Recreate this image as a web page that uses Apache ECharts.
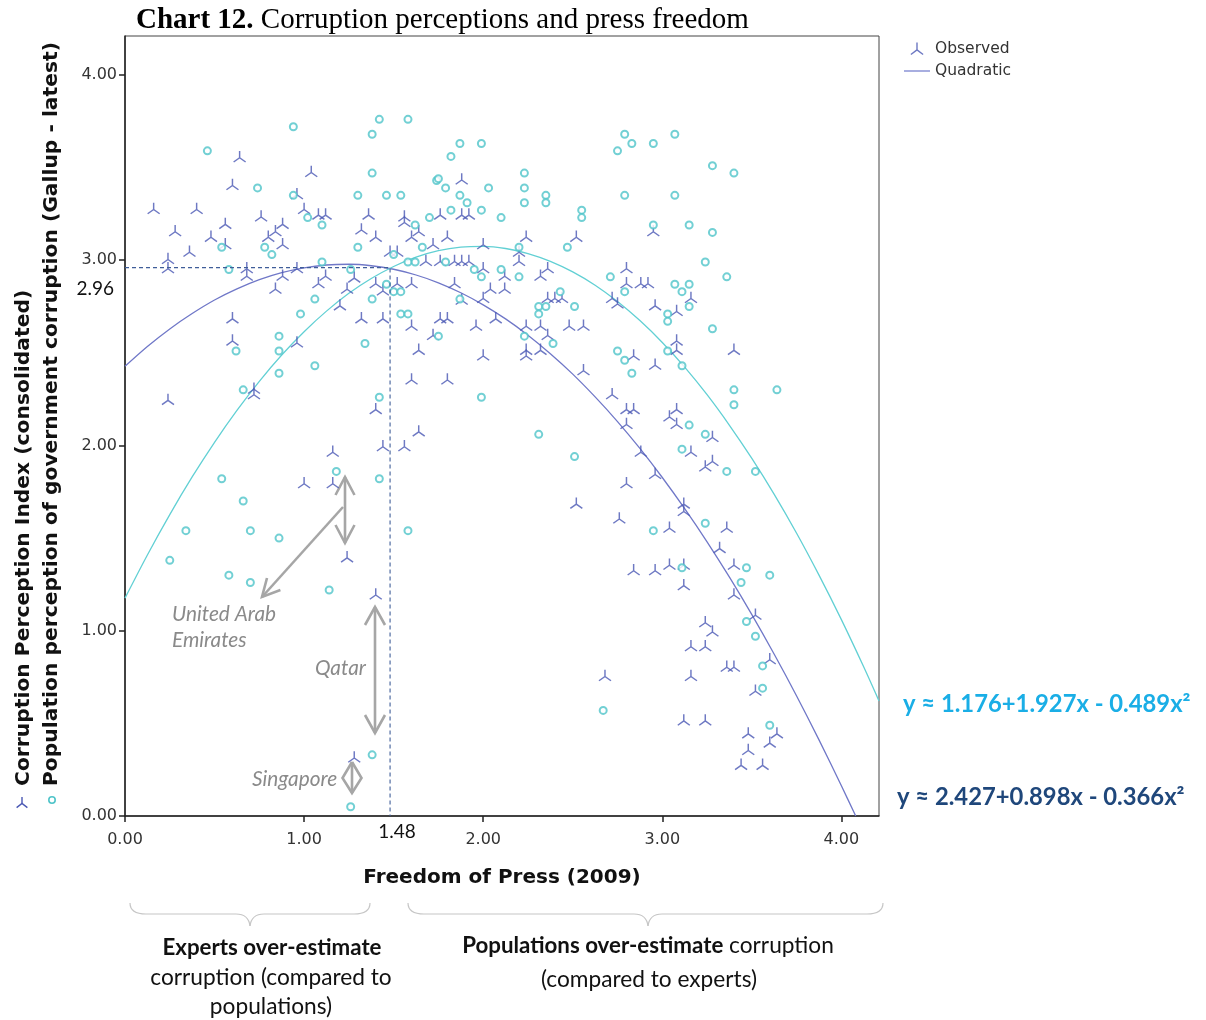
<!DOCTYPE html>
<html>
<head>
<meta charset="utf-8">
<script src="https://cdn.jsdelivr.net/npm/echarts@6/dist/echarts.min.js"></script>
<style>html,body{margin:0;padding:0;background:#fff;}#c{width:1206px;height:1020px;}</style>
</head>
<body>
<div id="c"></div>
<script>
// ---- data ----
const tickValues = [0, 1, 2, 3, 4];

const observedPoints = [
[0.64,3.56],[1.04,3.48],[0.60,3.41],[1.88,3.44],[0.96,3.36],[0.16,3.28],[0.40,3.28],[1.00,3.28],[1.08,3.25],[1.12,3.25],
[1.36,3.25],[1.56,3.24],[1.56,3.21],[1.76,3.25],[1.88,3.25],[1.92,3.25],[0.28,3.16],[0.56,3.20],[0.76,3.24],[0.88,3.20],
[0.84,3.16],[0.80,3.13],[0.48,3.13],[0.56,3.09],[0.88,3.09],[0.36,3.05],[1.32,3.17],[1.40,3.13],[1.64,3.16],[1.60,3.13],
[1.80,3.13],[1.72,3.09],[2.00,3.09],[0.24,3.01],[0.24,2.96],[1.48,3.05],[1.52,3.05],[0.68,2.96],[0.68,2.92],[0.96,2.96],
[0.88,2.92],[1.68,3.00],[1.76,3.00],[1.84,3.00],[1.88,3.00],[1.92,3.00],[2.00,2.96],[1.12,2.92],[1.08,2.88],[1.28,2.91],
[0.84,2.85],[1.24,2.85],[1.40,2.88],[1.44,2.84],[1.52,2.88],[1.60,2.88],[1.84,2.88],[2.04,2.85],[2.00,2.80],[1.88,2.79],
[1.20,2.76],
[2.24,3.13],[2.52,3.13],[2.95,3.16],[2.20,3.05],[2.20,3.00],[2.12,2.92],[2.36,2.96],[2.32,2.92],[2.12,2.85],[2.36,2.80],
[2.40,2.80],[2.44,2.80],[2.80,2.96],[2.80,2.88],[2.88,2.88],[2.92,2.88],[2.72,2.80],[2.75,2.77],[3.16,2.80],[2.96,2.76],
[3.08,2.73],
[0.60,2.69],[1.32,2.69],[1.44,2.69],[1.60,2.65],[1.76,2.69],[1.80,2.69],[1.96,2.65],[2.07,2.69],[0.60,2.57],[0.96,2.56],
[1.72,2.60],[1.64,2.52],[2.00,2.49],[0.72,2.31],[0.72,2.28],[0.24,2.25],[1.60,2.36],[1.80,2.36],[1.40,2.20],[1.64,2.08],
[1.44,2.00],[1.56,2.00],[1.16,1.97],[1.00,1.80],[1.16,1.80],[1.24,1.40],
[2.24,2.65],[2.32,2.65],[2.48,2.65],[2.56,2.65],[2.36,2.60],[2.24,2.52],[2.24,2.49],[2.32,2.52],[2.84,2.49],[2.96,2.44],
[3.08,2.57],[3.08,2.52],[3.40,2.52],[2.56,2.41],[2.72,2.28],[2.80,2.20],[2.84,2.20],[2.80,2.12],[3.08,2.20],[3.04,2.16],
[3.08,2.12],[3.28,2.05],[3.16,1.97],[3.28,1.92],[3.24,1.89],[2.88,1.97],[2.96,1.85],[2.80,1.80],[2.52,1.69],[3.12,1.69],
[3.12,1.65],[2.76,1.61],[3.04,1.56],[3.36,1.56],[3.32,1.45],[2.84,1.33],[2.96,1.33],[3.04,1.36],[3.12,1.36],[3.40,1.36],
[3.12,1.25],[3.40,1.20],[3.24,1.05],[3.28,1.00],[3.52,1.09],[3.16,0.92],[3.24,0.92],[3.36,0.81],[3.40,0.81],[3.60,0.85],
[2.68,0.76],[3.16,0.76],[3.52,0.68],[3.12,0.52],[3.24,0.52],[3.48,0.45],[3.64,0.45],[3.48,0.36],[3.60,0.40],[3.44,0.28],
[3.56,0.28],[1.40,1.20],[1.28,0.32]
];

const gallupPoints = [
[0.46,3.59],[0.94,3.72],[1.42,3.76],[1.58,3.76],[1.38,3.68],[1.87,3.63],[1.99,3.63],[1.82,3.56],[1.38,3.47],[1.74,3.43],
[1.75,3.44],[1.79,3.39],[2.03,3.39],[0.74,3.39],[0.94,3.35],[1.30,3.35],[1.46,3.35],[1.54,3.35],[1.87,3.35],[1.91,3.31],
[1.82,3.27],[1.99,3.27],[2.10,3.23],[1.02,3.23],[1.10,3.19],[1.70,3.23],[1.62,3.19],[0.54,3.07],[0.78,3.07],[0.82,3.03],
[1.30,3.07],[1.66,3.07],[1.50,3.03],[1.10,2.99],[0.58,2.95],[1.58,2.99],[1.62,2.99],[1.79,2.99],[1.26,2.95],[1.95,2.95],
[1.99,2.91],[2.10,2.95],[1.46,2.87],[1.50,2.83],[1.54,2.83],[1.06,2.79],[1.38,2.79],[1.87,2.79],
[2.79,3.68],[2.83,3.63],[2.75,3.59],[2.95,3.63],[3.07,3.68],[3.28,3.51],[3.40,3.47],[2.23,3.47],[2.23,3.39],[2.23,3.31],
[2.35,3.35],[2.35,3.31],[2.55,3.27],[2.55,3.23],[2.79,3.35],[3.07,3.35],[2.95,3.19],[3.15,3.19],[3.28,3.15],[2.47,3.07],
[2.20,3.07],[3.24,2.99],[3.36,2.91],[2.20,2.91],[2.43,2.83],[2.71,2.91],[2.79,2.83],[3.07,2.87],[3.15,2.87],[3.11,2.83],
[3.15,2.75],[2.31,2.75],[2.35,2.75],[2.51,2.75],
[0.98,2.71],[1.54,2.71],[1.58,2.71],[0.86,2.59],[0.86,2.51],[0.62,2.51],[1.34,2.55],[1.75,2.59],[0.86,2.39],[1.06,2.43],
[0.66,2.30],[1.42,2.26],[1.99,2.26],[1.18,1.86],[1.42,1.82],[0.54,1.82],[0.66,1.70],[0.34,1.54],[0.70,1.54],[1.58,1.54],
[0.86,1.50],[0.25,1.38],[0.58,1.30],
[2.31,2.71],[3.03,2.71],[3.03,2.67],[3.28,2.63],[2.23,2.59],[2.39,2.55],[2.75,2.51],[2.79,2.46],[2.83,2.39],[3.03,2.51],
[3.11,2.43],[3.40,2.30],[3.40,2.22],[3.64,2.30],[3.15,2.11],[3.24,2.06],[3.11,1.98],[2.31,2.06],[2.51,1.94],[3.36,1.86],
[3.52,1.86],[2.95,1.54],[3.24,1.58],[3.11,1.34],[3.47,1.34],[3.60,1.30],
[3.44,1.26],[3.47,1.05],[3.52,0.97],[3.56,0.81],[3.56,0.69],[3.60,0.49],[2.67,0.57],
[0.70,1.26],[1.14,1.22],[1.38,0.33],[1.26,0.05]
];

// quadratic fit curves as drawn (y ≈ 2.427+0.898x-0.366x² and y ≈ 1.176+1.927x-0.489x²)
const observedFit = [
[0,2.427],[0.125,2.534],[0.25,2.629],[0.375,2.712],[0.5,2.785],[0.625,2.845],[0.75,2.895],[0.875,2.933],
[1.0,2.959],[1.125,2.974],[1.25,2.978],[1.375,2.970],[1.5,2.951],[1.625,2.920],[1.75,2.878],[1.875,2.824],
[2.0,2.759],[2.125,2.683],[2.25,2.595],[2.375,2.495],[2.5,2.385],[2.625,2.262],[2.75,2.129],[2.875,1.984],
[3.0,1.827],[3.125,1.659],[3.25,1.480],[3.375,1.289],[3.5,1.087],[3.625,0.873],[3.75,0.648],[3.875,0.411],
[4.0,0.163],[4.08,0.0]
];
const gallupFit = [
[0,1.176],[0.125,1.409],[0.25,1.627],[0.375,1.830],[0.5,2.017],[0.625,2.189],[0.75,2.346],[0.875,2.488],
[1.0,2.614],[1.125,2.725],[1.25,2.821],[1.375,2.901],[1.5,2.966],[1.625,3.016],[1.75,3.051],[1.875,3.070],
[2.0,3.074],[2.125,3.063],[2.25,3.036],[2.375,2.994],[2.5,2.937],[2.625,2.865],[2.75,2.777],[2.875,2.674],
[3.0,2.556],[3.125,2.423],[3.25,2.274],[3.375,2.109],[3.5,1.930],[3.625,1.736],[3.75,1.526],[3.875,1.300],
[4.0,1.060],[4.125,0.804],[4.21,0.621]
];

const refLine = [[0,2.96],[1.48,2.96],[1.48,0]];

// ---- styling ----
const TRI = 'path://M6,0 L6,6.5 M6,6.5 L0.6,10.6 M6,6.5 L11.4,10.6';
const BLUE = '#4a58b4';
const CYAN = '#4fc4c9';
const SANS = 'DejaVu Sans';

const chart = echarts.init(document.getElementById('c'));

const axisCommon = {
  type: 'value', min: 0, max: 4.21,
  axisLine: { show: true, onZero: false, lineStyle: { color: '#222', width: 1.5 } },
  axisTick: { show: true, customValues: tickValues, length: 6, lineStyle: { color: '#222', width: 1.5 } },
  axisLabel: { customValues: tickValues, formatter: v => v.toFixed(2), fontFamily: SANS, fontSize: 16, color: '#333' },
  splitLine: { show: false }
};

const gray = '#a6a6a6';
function poly(points, color, w) {
  return { type: 'polyline', silent: true, shape: { points: points },
    style: { stroke: color || gray, lineWidth: w || 2.6, fill: null } };
}
function bez(p0, c1, c2, p1) {
  return { type: 'bezierCurve', silent: true,
    shape: { x1: p0[0], y1: p0[1], cpx1: c1[0], cpy1: c1[1], cpx2: c2[0], cpy2: c2[1], x2: p1[0], y2: p1[1] },
    style: { stroke: '#c6c6c6', lineWidth: 1.2, fill: null } };
}
function brace(x0, xm, x1, yTop, yMid, yTip) {
  return [
    bez([x0, yTop], [x0, yMid - 3], [x0 + 6, yMid], [x0 + 16, yMid]),
    poly([[x0 + 16, yMid], [xm - 14, yMid]], '#c6c6c6', 1.2),
    bez([xm - 14, yMid], [xm - 6, yMid], [xm - 1, yMid + 4], [xm, yTip]),
    bez([xm, yTip], [xm + 1, yMid + 4], [xm + 6, yMid], [xm + 14, yMid]),
    poly([[xm + 14, yMid], [x1 - 16, yMid]], '#c6c6c6', 1.2),
    bez([x1 - 16, yMid], [x1 - 6, yMid], [x1, yMid - 3], [x1, yTop])
  ];
}

const graphics = [
  // y axis titles
  { type: 'text', x: 24, y: 786, rotation: Math.PI / 2, silent: true,
    style: { text: 'Corruption Perception Index (consolidated)', font: 'bold 20.3px "DejaVu Sans"', fill: '#111', align: 'left', verticalAlign: 'middle' } },
  { type: 'text', x: 52, y: 786, rotation: Math.PI / 2, silent: true,
    style: { text: 'Population perception of government corruption (Gallup - latest)', font: 'bold 20.3px "DejaVu Sans"', fill: '#111', align: 'left', verticalAlign: 'middle' } },
  poly([[22, 797], [22, 803.5]], BLUE, 1.4),
  poly([[16.6, 807.6], [22, 803.5], [27.4, 807.6]], BLUE, 1.4),
  { type: 'circle', silent: true, shape: { cx: 52, cy: 800, r: 3.2 }, style: { stroke: CYAN, fill: '#fff', lineWidth: 1.6 } },
  // reference value labels
  { type: 'text', x: 114, y: 289, silent: true, style: { text: '2.96', font: '19px Lato', fill: '#111', align: 'right', verticalAlign: 'middle' } },
  { type: 'text', x: 397, y: 832, silent: true, style: { text: '1.48', font: '19px Lato', fill: '#111', align: 'center', verticalAlign: 'middle' } },
  // equations
  { type: 'text', x: 903, y: 704, silent: true, style: { text: 'y ≈ 1.176+1.927x - 0.489x²', font: 'bold 23.8px Lato', fill: '#1aaee6', align: 'left', verticalAlign: 'middle' } },
  { type: 'text', x: 897, y: 797, silent: true, style: { text: 'y ≈ 2.427+0.898x - 0.366x²', font: 'bold 23.8px Lato', fill: '#1f477b', align: 'left', verticalAlign: 'middle' } },
  // annotations
  { type: 'text', x: 172, y: 614, silent: true, style: { text: 'United Arab', font: 'italic 20.8px Lato', fill: '#8a8a8a', align: 'left', verticalAlign: 'middle' } },
  { type: 'text', x: 172, y: 640, silent: true, style: { text: 'Emirates', font: 'italic 20.8px Lato', fill: '#8a8a8a', align: 'left', verticalAlign: 'middle' } },
  { type: 'text', x: 315, y: 668, silent: true, style: { text: 'Qatar', font: 'italic 20.8px Lato', fill: '#8a8a8a', align: 'left', verticalAlign: 'middle' } },
  { type: 'text', x: 252, y: 779, silent: true, style: { text: 'Singapore', font: 'italic 20.8px Lato', fill: '#8a8a8a', align: 'left', verticalAlign: 'middle' } },
  // UAE double arrow + pointer
  poly([[345, 477], [345, 543]]),
  poly([[335.5, 495], [345, 477], [354.5, 495]]),
  poly([[335.5, 525], [345, 543], [354.5, 525]]),
  poly([[343, 507], [262, 597]]),
  poly([[267, 578], [262, 597], [280.4, 590]]),
  // Qatar double arrow
  poly([[375, 607], [375, 733]]),
  poly([[365, 625], [375, 607], [385, 625]]),
  poly([[365, 715], [375, 733], [385, 715]]),
  // Singapore
  poly([[352, 762], [352, 793]]),
  poly([[352, 762], [342.5, 778], [352, 793], [361.5, 778], [352, 762]]),
  // bottom explanations
  { type: 'text', x: 272, y: 948, silent: true, style: { text: 'Experts over-estimate', font: 'bold 22.3px Lato', fill: '#111', align: 'center', verticalAlign: 'middle' } },
  { type: 'text', x: 271, y: 978, silent: true, style: { text: 'corruption (compared to', font: '22.7px Lato', fill: '#111', align: 'center', verticalAlign: 'middle' } },
  { type: 'text', x: 271, y: 1007, silent: true, style: { text: 'populations)', font: '22.7px Lato', fill: '#111', align: 'center', verticalAlign: 'middle' } },
  { type: 'text', x: 648, y: 946, silent: true, style: { text: '{b|Populations over-estimate} corruption', font: '22.7px Lato', fill: '#111', align: 'center', verticalAlign: 'middle',
      rich: { b: { font: 'bold 22.3px Lato', fill: '#111' } } } },
  { type: 'text', x: 649, y: 980, silent: true, style: { text: '(compared to experts)', font: '22.7px Lato', fill: '#111', align: 'center', verticalAlign: 'middle' } }
].concat(brace(130, 250, 370, 903, 914, 926), brace(408, 648, 883, 903, 914, 926));

chart.setOption({
  animation: false,
  backgroundColor: '#fff',
  title: {
    text: '{b|Chart 12.} Corruption perceptions and press freedom',
    left: 131, top: 1,
    textStyle: { fontFamily: 'Liberation Serif', fontSize: 29, fontWeight: 'normal', color: '#000',
      rich: { b: { fontFamily: 'Liberation Serif', fontSize: 29, fontWeight: 'bold', color: '#000' } } }
  },
  grid: { left: 125, right: 327, top: 36, bottom: 204, show: true, borderColor: '#444', borderWidth: 1, backgroundColor: '#fff' },
  xAxis: Object.assign({}, axisCommon, {
    axisLabel: Object.assign({}, axisCommon.axisLabel, { margin: 16 }),
    name: 'Freedom of Press (2009)', nameLocation: 'middle', nameGap: 52,
    nameTextStyle: { fontFamily: SANS, fontWeight: 'bold', fontSize: 20, color: '#111' }
  }),
  yAxis: Object.assign({}, axisCommon, {
    axisLabel: Object.assign({}, axisCommon.axisLabel, { margin: 8 })
  }),
  legend: {
    orient: 'vertical', left: 899, top: 35, itemWidth: 26, itemHeight: 12, itemGap: 6,
    textStyle: { fontFamily: SANS, fontSize: 15.5, color: '#333' },
    data: [
      { name: 'Observed', icon: TRI, itemStyle: { color: 'none', borderColor: BLUE, borderWidth: 1.4 } },
      { name: 'Quadratic', icon: 'path://M0,0 L26,0 L26,1.5 L0,1.5 Z', itemStyle: { color: '#8b93d6', borderWidth: 0 } }
    ],
    selectedMode: false
  },
  series: [
    { name: 'Quadratic', type: 'line', data: observedFit, smooth: 0.3, symbol: 'none', color: '#7078c8',
      lineStyle: { color: '#7078c8', width: 1.3 }, silent: true, z: 3 },
    { name: 'Gallup quadratic', type: 'line', data: gallupFit, smooth: 0.3, symbol: 'none', color: '#62d0d4',
      lineStyle: { color: '#62d0d4', width: 1.3 }, silent: true, z: 3 },
    { name: 'Observed', type: 'scatter', data: observedPoints, symbol: TRI, symbolSize: [12, 11],
      itemStyle: { color: 'none', borderColor: BLUE, borderWidth: 1.4 }, silent: true, z: 4 },
    { name: 'Gallup', type: 'scatter', data: gallupPoints, symbol: 'emptyCircle', symbolSize: 7,
      itemStyle: { color: CYAN, borderColor: CYAN, borderWidth: 1.6 }, silent: true, z: 4 },
    { name: 'Reference', type: 'line', data: refLine, symbol: 'none', silent: true, z: 5,
      lineStyle: { color: '#3f5d99', width: 1.1, type: [4, 3] } }
  ],
  graphic: graphics
});
</script>
</body>
</html>
